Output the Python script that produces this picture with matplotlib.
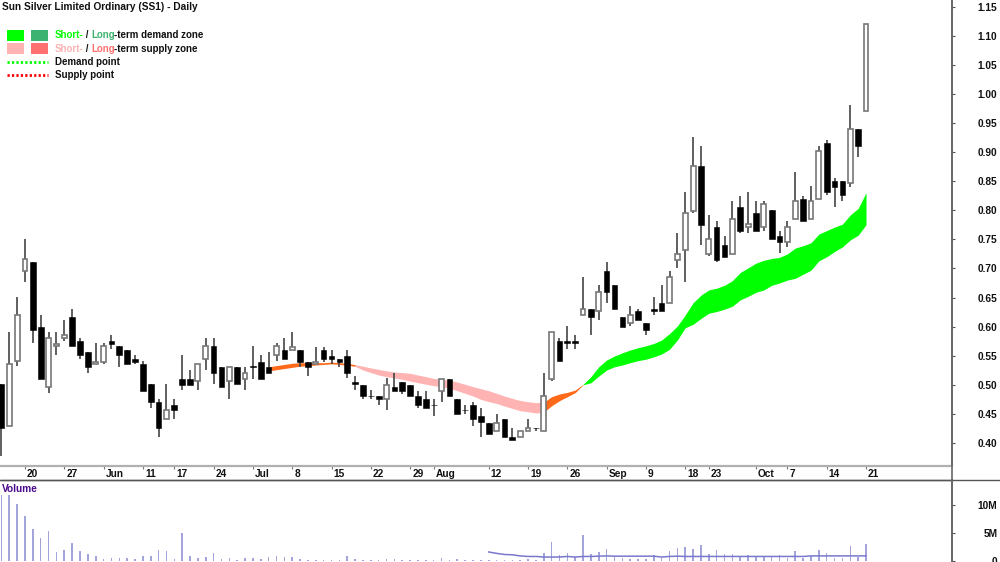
import numpy as np
import matplotlib
matplotlib.use('Agg')
import matplotlib.pyplot as plt
from matplotlib.patches import Rectangle

plt.rcParams['font.family'] = ['Liberation Sans', 'DejaVu Sans']

# Daily prices, one entry per trading bar
opens = [.501, .430, .541, .696, .711, .600, .496, .566, .581, .616, .576, .556, .535, .540, .576, .566, .560, .545, .535, .501,
         .471, .441, .466, .510, .510, .506, .545, .566, .531, .506, .531, .510, .531, .540, .531, .551, .560, .560, .560, .540,
         .535, .560, .550, .545, .550, .505, .500, .480, .480, .475, .496, .505, .500, .480, .475, .465, .490, .510, .475, .456,
         .465, .446, .435, .420, .441, .410, .411, .420, .425, .420, .510, .576, .576, .576, .620, .630, .626, .696, .671, .616,
         .606, .626, .606, .630, .641, .641, .715, .731, .799, .876, .725, .771, .741, .725, .806, .771, .796, .771, .800, .756,
         .745, .785, .820, .785, .820, .916, .851, .851, .846, .940, .970]
highs = [.501, .591, .651, .751, .711, .620, .591, .591, .611, .630, .581, .556, .571, .571, .586, .566, .560, .551, .541, .501,
         .476, .501, .476, .551, .525, .535, .581, .581, .531, .531, .531, .531, .566, .551, .556, .571, .581, .591, .560, .540,
         .565, .565, .560, .545, .560, .516, .500, .491, .480, .511, .521, .505, .500, .490, .490, .475, .510, .510, .475, .466,
         .470, .460, .435, .450, .441, .425, .420, .441, .425, .521, .591, .581, .601, .586, .686, .630, .671, .711, .671, .616,
         .636, .631, .606, .651, .671, .696, .760, .831, .926, .911, .791, .781, .756, .816, .825, .831, .816, .816, .800, .765,
         .781, .866, .825, .841, .911, .921, .856, .851, .981, .940, 1.12]
lows = [.377, .430, .532, .677, .571, .510, .486, .551, .576, .566, .545, .521, .535, .536, .561, .531, .535, .536, .490, .461,
        .411, .441, .441, .491, .500, .491, .525, .501, .496, .476, .501, .491, .510, .510, .521, .541, .545, .560, .531, .516,
        .535, .540, .535, .531, .511, .491, .476, .476, .466, .456, .490, .485, .480, .461, .461, .446, .471, .480, .450, .450,
        .430, .411, .415, .420, .410, .406, .411, .420, .420, .420, .506, .541, .561, .561, .620, .586, .611, .641, .630, .600,
        .601, .611, .586, .620, .626, .641, .700, .676, .796, .741, .721, .711, .720, .725, .760, .760, .765, .765, .750, .726,
        .736, .785, .781, .785, .820, .826, .806, .816, .840, .891, .970]
closes = [.425, .535, .620, .716, .595, .510, .581, .570, .586, .566, .551, .531, .540, .566, .570, .551, .535, .540, .490, .470,
          .425, .456, .456, .500, .500, .535, .566, .521, .496, .531, .501, .521, .531, .510, .521, .566, .545, .565, .540, .531,
          .540, .545, .545, .540, .521, .501, .480, .480, .476, .500, .490, .490, .480, .465, .461, .465, .510, .480, .450, .456,
          .441, .436, .415, .435, .410, .406, .420, .425, .425, .480, .591, .541, .571, .571, .630, .616, .660, .660, .630, .600,
          .620, .611, .595, .626, .626, .686, .725, .796, .876, .775, .750, .714, .720, .785, .765, .776, .765, .811, .750, .745,
          .771, .816, .781, .816, .901, .831, .840, .826, .940, .911, 1.12]

# Volume in millions
volumes = [11.8, 11.8, 10.2, 8.2, 5.8, 4.2, 5.5, 1.7, 2.0, 3.3, 1.8, 1.3, 1.0, .5, .7, .7, .7, .4, 1.0, .9,
           2.1, 1.8, .4, 5.1, 1.0, .7, .8, 1.5, .4, .6, .3, .7, .7, .4, .8, 1.0, .8, .8, .5, .35,
           .3, .3, .2, .3, .9, .5, .35, .3, .3, .4, .4, .2, .2, .3, .2, .3, .6, .3, .4, .25,
           .25, .35, .2, .25, .3, .3, .3, .4, .3, 1.5, 3.4, 1.1, 1.6, .8, 4.8, 1.3, 1.7, 2.3, .8, .7,
           .5, .5, .5, 1.1, .7, 1.8, 2.4, 2.5, 2.3, 3.0, 1.4, 2.0, 1.4, 1.3, .9, 1.2, .9, .8, .8, 1.1,
           .6, 1.9, .6, .9, 2.1, 1.6, .7, .7, 2.8, .8, 3.2]
vol_avg_start = 62
vol_avg = [1.7, 1.45, 1.25, 1.2, 1.0, .9, .9, .8, .8, .8, .9, .8, .9, .9, .95, 1.0, .95, .95, .95, .95,
           .95, .95, .8, .9, .95, .9, .9, .9, .9, .9, .9, .9, .9, .9, .9, .9, .9, .9, .9, .9, .9, 1.0, 1.0, 1.0, 1.0, 1.0, 1.0, 1.0, 1.0]

# Zone edges, each run starts at its own bar
orange1_start = 34
orange1_top = [.531, .533, .535, .537, .538, .538, .538, .538, .539, .538, .537, .5346]
orange1_bot = [.524, .526, .528, .530, .532, .533, .534, .535, .536, .535, .534, .5317]
pink_start = 45
pink_top = [.5346, .532, .529, .5265, .524, .522, .521, .5197, .5168, .514, .511, .5093, .508, .5048, .5008, .4968,
            .4933, .4899, .4853, .4807, .4767, .473, .471, .4693, .470]
pink_bot = [.5317, .5254, .521, .5168, .514, .512, .5094, .5065, .5036, .501, .4985, .4968, .494, .4899, .4853, .4807,
            .475, .471, .468, .4635, .4595, .4555, .4538, .4515, .453]
orange2_start = 69
orange2_top = [.470, .4796, .4842, .487, .491, .5008]
orange2_bot = [.453, .4640, .4727, .4796, .4865, .5000]
green_start = 74
green_top = [.5008, .514, .531, .5426, .5495, .555, .5598, .5638, .567, .571, .577, .588, .601, .620, .641, .654, .663, .666, .671,
             .679, .693, .701, .709, .714, .717, .719, .725, .735, .739, .744, .759, .765, .771, .776, .792, .803, .830]
green_bot = [.5000, .5036, .515, .5254, .531, .534, .538, .5415, .544, .548, .553, .561, .577, .598, .604, .614, .623, .626, .630,
             .635, .646, .652, .659, .663, .671, .675, .680, .683, .690, .697, .713, .720, .729, .737, .749, .757, .775]

price_ticks = [.40, .45, .50, .55, .60, .65, .70, .75, .80, .85, .90, .95, 1.00, 1.05, 1.10, 1.15]
date_ticks = [3, 8, 13, 18, 22, 27, 32, 37, 42, 47, 52, 55, 62, 67, 72, 77, 82, 87, 90, 96, 100, 105, 110]
date_labels = ['20', '27', 'Jun', '11', '17', '24', 'Jul', '8', '15', '22', '29', 'Aug', '12', '19', '26', 'Sep', '9',
               '18', '23', 'Oct', '7', '14', '21']

W, H = 1000, 562
AXIS_X, DATE_TOP, DATE_BOT = 952, 466, 480
x_left, x_right = -0.178, 120.94
GREEN, SEA, PINK, SALMON, ORANGE = '#00ff00', '#3cb371', '#ffb3b3', '#ff7070', '#ff6a1a'
FS = 7.3
LEGEND_FS = 7.05
TXT = dict(fontsize=FS, fontweight='bold', color='#111111')

fig = plt.figure(figsize=(10, 5.62), dpi=100)
ax = fig.add_axes([0, 1 - DATE_TOP / H, AXIS_X / W, DATE_TOP / H])
vol = fig.add_axes([0, 0, AXIS_X / W, (H - DATE_BOT) / H])
over = fig.add_axes([0, 0, 1, 1], facecolor='none')
over.set_xlim(0, W)
over.set_ylim(H, 0)
over.axis('off')

# Zones
def zone(start, top, bot, color):
    xs = np.arange(start, start + len(top))
    ax.fill_between(xs, bot, top, color=color, lw=0, zorder=1)

zone(orange1_start, orange1_top, orange1_bot, ORANGE)
zone(pink_start, pink_top, pink_bot, PINK)
zone(orange2_start, orange2_top, orange2_bot, ORANGE)
zone(green_start, green_top, green_bot, GREEN)

# Candles
o, h, l, c = map(np.array, (opens, highs, lows, closes))
idx = np.arange(len(o))
up = c > o
ax.vlines(idx, l, h, color='#444444', lw=1.2, zorder=2)
ax.bar(idx[~up], np.maximum(o - c, 0.001)[~up], bottom=c[~up], width=0.72, color='black', edgecolor='black', lw=0.4, zorder=3)
ax.bar(idx[up], (c - o)[up], bottom=o[up], width=0.62, color='white', edgecolor='#777777', lw=1.2, zorder=3)

ax.set_xlim(x_left, x_right)
ax.set_ylim(0.3605, 1.1612)
ax.yaxis.tick_right()
ax.set_yticks(price_ticks)
ax.set_yticklabels(['%.2f' % p for p in price_ticks], **TXT)
ax.tick_params(axis='y', length=2.2, width=0.8, color='#555555', pad=30.5)
for lab in ax.get_yticklabels():
    lab.set_ha('right')
ax.set_xticks(date_ticks)
ax.set_xticklabels([])
ax.tick_params(axis='x', length=2.2, width=0.8, color='#777777')
for i, lab in zip(date_ticks, date_labels):
    ax.annotate(lab, xy=(i, 0), xycoords=('data', 'axes fraction'), xytext=(1.5, -5.8), textcoords='offset points',
                ha='left', va='center', annotation_clip=False, **TXT)
for side in ('top', 'left'):
    ax.spines[side].set_visible(False)
ax.spines['bottom'].set(color='#b0b0b0', linewidth=1.6)
ax.spines['right'].set(color='#666666', linewidth=1.2)

# Volume panel
vol.bar(idx, volumes, width=0.2, color='#a4a4dc', lw=0, zorder=2)
vol.plot(np.arange(vol_avg_start, vol_avg_start + len(vol_avg)), vol_avg, color='#7a78cc', lw=1.1, zorder=3)
vol.set_xlim(x_left, x_right)
vol.set_ylim(-0.09, 14.55)
vol.yaxis.tick_right()
vol.set_yticks([0, 5, 10])
vol.set_yticklabels(['0', '5M', '10M'], **TXT)
vol.tick_params(axis='y', length=2.2, width=0.8, color='#555555', pad=30.5)
for lab in vol.get_yticklabels():
    lab.set_ha('right')
vol.set_xticks([])
for side in ('left', 'bottom'):
    vol.spines[side].set_visible(False)
vol.spines['top'].set(color='#555555', linewidth=1.0)
vol.spines['right'].set(color='#666666', linewidth=1.2)

# The line under the date strip runs on past the axis
over.plot([0, W], [DATE_BOT, DATE_BOT], color='#555555', lw=1.0, solid_capstyle='butt')
over.plot([AXIS_X, AXIS_X], [0, H], color='#666666', lw=1.2, solid_capstyle='butt')

# Title and legend
over.text(2, 7, 'Sun Silver Limited Ordinary (SS1) - Daily', va='center', **TXT)
over.text(2, 489, 'Volume', va='center', fontsize=FS, fontweight='bold', color='#4b0a8c')

for x0, color, y0 in [(7, GREEN, 30), (31, SEA, 30), (7, PINK, 43), (31, SALMON, 43)]:
    over.add_patch(Rectangle((x0, y0), 17, 10.5, color=color, lw=0))
over.plot([7, 48], [62, 62], color=GREEN, lw=2, ls=(0, (0.8, 0.8)))
over.plot([7, 48], [74.5, 74.5], color='#ff0000', lw=2, ls=(0, (0.8, 0.8)))

def pieces(x, y, parts):
    # lay coloured runs of text end to end
    renderer = fig.canvas.get_renderer()
    for s, color in parts:
        t = over.text(x, y, s.replace(' ', '\u00a0'), va='center', fontsize=LEGEND_FS, fontweight='bold', color=color)
        x = over.transData.inverted().transform(t.get_window_extent(renderer).max)[0] - 0.5

pieces(55, 35, [('Short-', GREEN), (' / ', '#111111'), ('Long', SEA), ('-term demand zone', '#111111')])
pieces(55, 48.5, [('Short-', PINK), (' / ', '#111111'), ('Long', SALMON), ('-term supply zone', '#111111')])
over.text(55, 62, 'Demand point', va='center', fontsize=LEGEND_FS, fontweight='bold', color='#111111')
over.text(55, 74.5, 'Supply point', va='center', fontsize=LEGEND_FS, fontweight='bold', color='#111111')

fig.savefig('out.png', dpi=100)
